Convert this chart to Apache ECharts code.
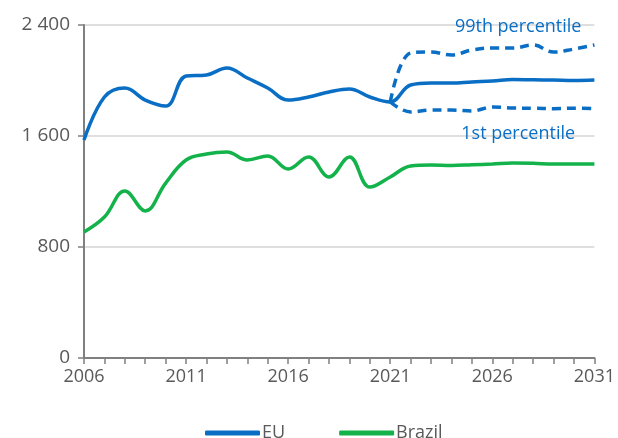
<!DOCTYPE html>
<html>
<head>
<meta charset="utf-8">
<script src="https://cdn.jsdelivr.net/npm/echarts@6/dist/echarts.min.js"></script>
<style>
  html, body { margin: 0; padding: 0; background: #fff; }
  #main { width: 618px; height: 438px; }
</style>
</head>
<body>
<div id="main"></div>
<script>
// years on the x axis
var years = [];
for (var y = 2006; y <= 2031; y++) years.push(String(y));

var euValues = [1571, 1881, 1946, 1859, 1816, 2032, 2040, 2090, 2018, 1946, 1859, 1881, 1917, 1938, 1881, 1845,
                1968, 1982, 1982, 1990, 1996, 2007, 2005, 2003, 2000, 2003];
var brazilValues = [908, 1016, 1204, 1060, 1261, 1427, 1470, 1485, 1427, 1456, 1362, 1449, 1305, 1449, 1232, 1305,
                    1384, 1391, 1388, 1393, 1398, 1405, 1403, 1398, 1398, 1398];
// percentiles only from 2021 on (15 leading gaps)
var p99Values = [1845, 2198, 2205, 2184, 2220, 2234, 2234, 2256, 2205, 2227, 2256];
var p1Values = [1845, 1773, 1787, 1787, 1780, 1809, 1802, 1800, 1797, 1800, 1797];

var yTicks = [0, 800, 1600, 2400];

function pad(arr) {
  var out = [];
  for (var i = 0; i < years.length - arr.length; i++) out.push(null);
  return out.concat(arr);
}

var blue = '#0a6ec5';
var green = '#13b24b';
var fontName = 'Open Sans';

function note(text, year, value, offset) {
  return {
    symbol: 'circle',
    symbolSize: 1,
    itemStyle: { color: 'rgba(0,0,0,0)' },
    label: { show: true, formatter: text, color: blue, fontSize: 18, position: 'inside', fontFamily: fontName, offset: offset },
    data: [{ coord: [year, value] }]
  };
}

var chart = echarts.init(document.getElementById('main'));
chart.setOption({
  animation: false,
  textStyle: { fontFamily: fontName },
  grid: { left: 84, right: 22, top: 25, bottom: 80 },
  legend: {
    top: 419,
    left: 200,
    icon: 'roundRect',
    itemWidth: 55,
    itemHeight: 5,
    itemGap: 54,
    textStyle: { fontSize: 18, color: '#595959', fontFamily: fontName, padding: [0, 0, 0, -3] },
    data: ['EU', 'Brazil']
  },
  xAxis: {
    type: 'category',
    data: years,
    boundaryGap: false,
    axisLine: { lineStyle: { color: '#808080', width: 2 } },
    axisTick: { show: true, interval: 0, length: 6, lineStyle: { color: '#808080', width: 1.5 } },
    axisLabel: { interval: 4, color: '#595959', fontSize: 18, margin: 10 }
  },
  yAxis: {
    type: 'value',
    min: yTicks[0],
    max: yTicks[yTicks.length - 1],
    interval: 800,
    axisLine: { show: true, lineStyle: { color: '#808080', width: 2 } },
    axisTick: { show: true, length: 6, lineStyle: { color: '#808080', width: 1.5 } },
    splitLine: { lineStyle: { color: '#d4d4d4', width: 1.5 } },
    axisLabel: {
      color: '#595959', fontSize: 19, margin: 14,
      formatter: function (v) { return String(v).replace(/\B(?=(\d{3})+(?!\d))/g, ' '); }
    }
  },
  series: [
    {
      name: 'EU', type: 'line', data: euValues, smooth: 0.4, showSymbol: false,
      itemStyle: { color: blue }, lineStyle: { color: blue, width: 3.5 }, z: 3
    },
    {
      name: 'Brazil', type: 'line', data: brazilValues, smooth: 0.4, showSymbol: false,
      itemStyle: { color: green }, lineStyle: { color: green, width: 3.5 }, z: 3
    },
    {
      name: '99th percentile', type: 'line', data: pad(p99Values), smooth: 0.4, showSymbol: false,
      itemStyle: { color: blue },
      lineStyle: { color: blue, width: 3.5, type: [9, 6] },
      markPoint: note('99th percentile', '2028', 2385, [-15, 0])
    },
    {
      name: '1st percentile', type: 'line', data: pad(p1Values), smooth: 0.4, showSymbol: false,
      itemStyle: { color: blue },
      lineStyle: { color: blue, width: 3.5, type: [9, 6] },
      markPoint: note('1st percentile', '2028', 1630, [-15, 2])
    }
  ]
});
</script>
</body>
</html>
